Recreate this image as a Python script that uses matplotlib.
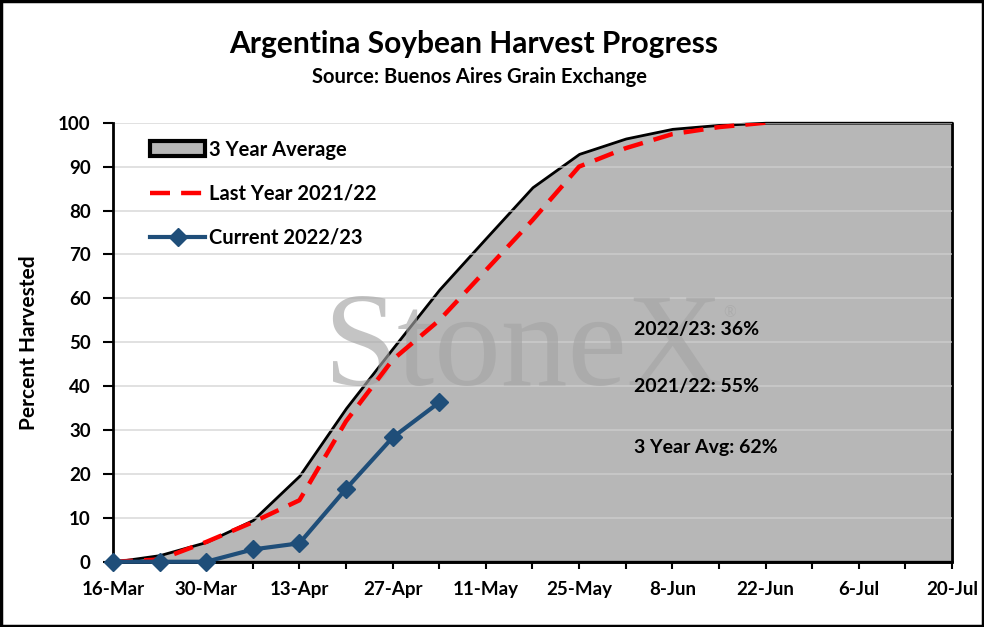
import matplotlib
matplotlib.use("Agg")
import matplotlib.pyplot as plt
import matplotlib.dates as mdates
from matplotlib.patches import Rectangle
import pandas as pd

# weekly dates (2023 season)
dates = ["2023-03-16", "2023-03-23", "2023-03-30", "2023-04-06", "2023-04-13",
         "2023-04-20", "2023-04-27", "2023-05-04", "2023-05-11", "2023-05-18",
         "2023-05-25", "2023-06-01", "2023-06-08", "2023-06-15", "2023-06-22",
         "2023-06-29", "2023-07-06", "2023-07-13", "2023-07-20"]

avg_3yr = [0, 1.5, 4.5, 9.5, 19.6, 35, 48.6, 62, 73.7, 85.3,
           92.9, 96.4, 98.6, 99.5, 100, 100, 100, 100, 100]
last_year = [0, 0.5, 4.5, 9, 14, 32, 46, 55, 66.4, 77.8,
             90, 94.2, 97.4, 99, 100]
current = [0, 0, 0, 2.8, 4.2, 16.6, 28.3, 36.3]

notes = ["2022/23: 36%", "2021/22: 55%", "3 Year Avg: 62%"]

x = pd.to_datetime(dates)

plt.rcParams['font.family'] = ['Lato', 'DejaVu Sans']
plt.rcParams['font.weight'] = 'bold'

fig = plt.figure(figsize=(9.84, 6.27), dpi=100)
ax = fig.add_axes([0.1148, 0.1041, 0.8527, 0.7002])

ax.set_ylim(0, 100)
ax.set_xlim(x[0], x[-1])
ax.set_yticks(range(0, 101, 10))
# gridlines sit on top of the grey area, faintly
for yv in range(10, 101, 10):
    ax.axhline(yv, color="#d0d0d0", lw=1.2, alpha=0.75, zorder=2)

ax.fill_between(x, avg_3yr, 0, facecolor="#b7b7b7", edgecolor="black",
                lw=2, zorder=1, clip_on=False, label="3 Year Average")

# watermark
ax.text(0.489, 0.4025, "StoneX", transform=ax.transAxes, ha="center",
        va="baseline", fontsize=96, family="Liberation Serif",
        fontweight="normal", color="#a5a5a5", alpha=0.65, zorder=3)
ax.text(0.735, 0.566, "®", transform=ax.transAxes, ha="center", va="center",
        fontsize=12, family="Liberation Serif", fontweight="normal",
        color="#a5a5a5", alpha=0.65, zorder=3)

ax.plot(x[:len(last_year)], last_year, color="red", lw=3.2, ls=(0, (4.5, 2.5)),
        zorder=4, label="Last Year 2021/22")
ax.plot(x[:len(current)], current, color="#1f4e79", lw=3, marker="D",
        markersize=9, zorder=8, clip_on=False, label="Current 2022/23")

ann_y = [0.528, 0.40, 0.261]
for t, yy in zip(notes, ann_y):
    ax.text(0.621, yy, t, transform=ax.transAxes, ha="left", va="center",
            fontsize=14, fontweight="bold", zorder=6)

ax.set_xticks(x[::2])
ax.set_xticks(x, minor=True)
ax.xaxis.set_major_formatter(mdates.DateFormatter("%-d-%b"))
ax.tick_params(axis="x", which="both", direction="out", length=5, width=1.5,
               labelsize=13.5, pad=9)
ax.tick_params(axis="y", direction="out", length=7, width=1.5, labelsize=13.5,
               pad=9)
for lab in ax.get_xticklabels() + ax.get_yticklabels():
    lab.set_fontweight("bold")

for s in ["top", "right"]:
    ax.spines[s].set_visible(False)
for s in ["left", "bottom"]:
    ax.spines[s].set_linewidth(2)
    ax.spines[s].set_zorder(7)

ax.set_ylabel("Percent Harvested", fontsize=15, fontweight="bold", labelpad=14)

leg = ax.legend(loc="upper left", frameon=False, fontsize=14.5,
                handlelength=2.7, handletextpad=0.2, labelspacing=1.2,
                bbox_to_anchor=(0.035, 0.98), borderaxespad=0)
for h in leg.legend_handles[:1]:
    h.set_linewidth(3)

fig.text(0.481, 0.93, "Argentina Soybean Harvest Progress", ha="center",
         va="center", fontsize=21.5, fontweight="bold")
fig.text(0.487, 0.877, "Source: Buenos Aires Grain Exchange", ha="center",
         va="center", fontsize=14.5, fontweight="bold")

fig.add_artist(Rectangle((0.001, 0.001), 0.998, 0.997, transform=fig.transFigure,
                         fill=False, edgecolor="black", lw=2.5))

fig.savefig("out.png", dpi=100)
